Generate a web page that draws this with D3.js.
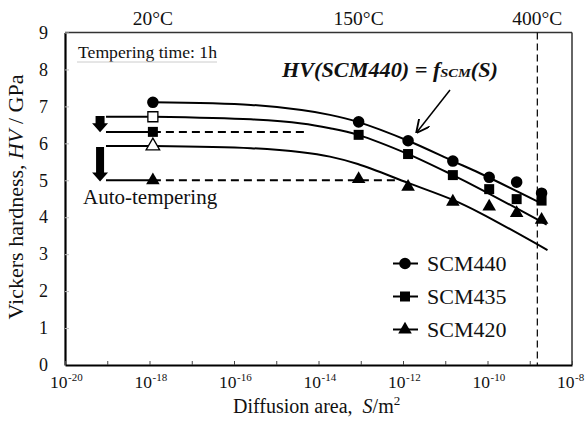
<!DOCTYPE html>
<html>
<head>
<meta charset="utf-8">
<script src="https://cdn.jsdelivr.net/npm/d3@7"></script>
<style>
  body { margin: 0; background: white; }
  svg text { font-family: "Liberation Serif", "Times New Roman", serif; fill: #111; }
</style>
</head>
<body>
<div id="chart"></div>
<script>
// Values. S is kept as log10(S / m^2).
const seriesNames = ["SCM440", "SCM435", "SCM420"];
const logS = [-17.92, -13.05, -11.88, -10.82, -9.96, -9.31, -8.72];
const hv440 = [7.11, 6.58, 6.07, 5.52, 5.08, 4.95, 4.65];
const hv435 = [6.31, 6.23, 5.71, 5.14, 4.76, 4.49, 4.45];
const hv420 = [5.0, 5.03, 4.82, 4.42, 4.29, 4.11, 3.93];

// Open markers (shifted 20°C values the fitted curves start from).
const openLogS = -17.92;
const open435 = 6.72;
const open420 = 5.93;

// Fitted curves HV = f(S).
const curve440 = [[-17.92, 7.11], [-15.6, 7.04], [-14.4, 6.9], [-13.73, 6.77], [-13.07, 6.58], [-11.88, 6.07], [-10.82, 5.52], [-10.18, 5.19], [-8.82, 4.43]];
const curve435 = [[-17.92, 6.72], [-15.6, 6.65], [-14.4, 6.54], [-13.73, 6.41], [-13.07, 6.23], [-11.88, 5.71], [-10.82, 5.14], [-10.18, 4.77], [-8.6, 3.8]];
const curve420 = [[-17.92, 5.93], [-15.6, 5.87], [-14.4, 5.76], [-13.73, 5.64], [-13.07, 5.44], [-11.88, 4.93], [-10.82, 4.47], [-10.18, 4.12], [-8.58, 3.11]];

// Auto-tempering stubs, dashed guides and arrows.
const stubStart = -19.03;
const stubLevels = [6.72, 6.31, 5.93, 5.0];
const dashed = [[-17.92, -14.32, 6.31], [-17.92, -12.19, 5.0]];
const arrows = [[6.74, 6.3, 9], [5.9, 4.97, 8]];
const arrowLogS = -19.17;

// Temperature marks along the top.
const tempLabels = ["20°C", "150°C", "400°C"];
const tempLogS = [-17.92, -13.05, -8.82];
const limitLogS = -8.82;

const xTicks = d3.range(-20, -7, 1);
const xLabels = d3.range(-20, -7, 2);
const yTicks = d3.range(0, 10, 1);

const W = 585, H = 426;
const margin = {left: 65, top: 32.5, right: 13, bottom: 61};

const svg = d3.select("#chart").append("svg")
  .attr("width", W).attr("height", H);

const x = d3.scaleLog().domain([1e-20, 1e-8]).range([margin.left, W - margin.right]);
const y = d3.scaleLinear().domain([0, 9]).range([H - margin.bottom, margin.top]);
const px = d => x(Math.pow(10, d));

// Frame: top and right lighter, left and bottom heavy.
svg.append("line").attr("x1", x(1e-20)).attr("x2", x(1e-8)).attr("y1", y(9)).attr("y2", y(9))
  .attr("stroke", "#333").attr("stroke-width", 1.5);
svg.append("line").attr("x1", x(1e-8)).attr("x2", x(1e-8)).attr("y1", y(9)).attr("y2", y(0))
  .attr("stroke", "#333").attr("stroke-width", 1.5);

// Y axis
const yAxis = svg.append("g")
  .attr("transform", `translate(${margin.left},0)`)
  .call(d3.axisLeft(y).tickValues(yTicks).tickSizeInner(-4).tickSizeOuter(0).tickPadding(17));
yAxis.select(".domain").attr("stroke", "#000").attr("stroke-width", 2.2);
yAxis.selectAll(".tick line").attr("stroke", "#bbb");
yAxis.selectAll(".tick text").attr("font-size", 18).attr("fill", "#111");

// X axis
const xAxis = svg.append("g")
  .attr("transform", `translate(0,${H - margin.bottom})`)
  .call(d3.axisBottom(x).tickValues(xTicks.map(v => Math.pow(10, v))).tickSizeInner(-4).tickSizeOuter(0).tickFormat(""));
xAxis.select(".domain").attr("stroke", "#000").attr("stroke-width", 2.2);
xAxis.selectAll(".tick line").attr("stroke", "#444");

const xl = svg.append("g").selectAll("text").data(xLabels).join("text")
  .attr("x", d => px(d) - 15)
  .attr("y", 388)
  .attr("font-size", 17.5);
xl.append("tspan").text("10");
xl.append("tspan").attr("font-size", 11).attr("dy", -7).attr("dx", 0.5).text(d => d);

// Axis titles
const xt = svg.append("text").attr("x", 233).attr("y", 413).attr("font-size", 20);
xt.append("tspan").text("Diffusion area,\u00a0\u00a0");
xt.append("tspan").attr("font-style", "italic").text("S");
xt.append("tspan").text("/m");
xt.append("tspan").attr("font-size", 13).attr("dy", -8).text("2");

const yt = svg.append("text")
  .attr("transform", "translate(23,197) rotate(-90)")
  .attr("text-anchor", "middle").attr("font-size", 22);
yt.append("tspan").text("Vickers hardness, ");
yt.append("tspan").attr("font-style", "italic").text("HV");
yt.append("tspan").text(" / GPa");

// Temperature labels and the 400°C limit
svg.append("g").selectAll("text").data(tempLabels).join("text")
  .attr("x", (d, i) => px(tempLogS[i]))
  .attr("y", 25)
  .attr("text-anchor", "middle")
  .attr("font-size", 19.5)
  .text(d => d);

svg.append("line")
  .attr("x1", px(limitLogS)).attr("x2", px(limitLogS))
  .attr("y1", y(9)).attr("y2", y(0))
  .attr("stroke", "#111").attr("stroke-width", 1.3).attr("stroke-dasharray", "7,4");

// Fitted curves
const line = d3.line().x(d => px(d[0])).y(d => y(d[1])).curve(d3.curveCatmullRom.alpha(0.5));
svg.append("g").selectAll("path").data([curve440, curve435, curve420]).join("path")
  .attr("d", line)
  .attr("fill", "none").attr("stroke", "#000").attr("stroke-width", 2);

// Stubs and dashed guides
svg.append("g").selectAll("line").data(stubLevels).join("line")
  .attr("x1", px(stubStart)).attr("x2", px(openLogS))
  .attr("y1", d => y(d)).attr("y2", d => y(d))
  .attr("stroke", "#000").attr("stroke-width", 2);

svg.append("g").selectAll("line").data(dashed).join("line")
  .attr("x1", d => px(d[0])).attr("x2", d => px(d[1]))
  .attr("y1", d => y(d[2])).attr("y2", d => y(d[2]))
  .attr("stroke", "#000").attr("stroke-width", 2).attr("stroke-dasharray", "8,5");

// Block arrows
svg.append("g").selectAll("path").data(arrows).join("path")
  .attr("d", d => {
    let cx = px(arrowLogS), y0 = y(d[0]), y1 = y(d[1]);
    let hw = 8, sw = d[2] / 2, hh = 9;
    return `M${cx - sw},${y0} L${cx + sw},${y0} L${cx + sw},${y1 - hh} L${cx + hw},${y1 - hh} L${cx},${y1} L${cx - hw},${y1 - hh} L${cx - sw},${y1 - hh} Z`;
  })
  .attr("fill", "#000");

// Markers
const sym = {
  SCM440: d3.symbol().type(d3.symbolCircle).size(105),
  SCM435: d3.symbol().type(d3.symbolSquare).size(100),
  SCM420: d3.symbol().type(d3.symbolTriangle).size(80)
};
const series = [hv440, hv435, hv420];
series.forEach((vals, k) => {
  svg.append("g").selectAll("path").data(vals).join("path")
    .attr("transform", (d, i) => `translate(${px(logS[i])},${y(d)})`)
    .attr("d", sym[seriesNames[k]]())
    .attr("fill", "#000");
});

// Open markers
svg.append("path")
  .attr("transform", `translate(${px(openLogS)},${y(open435)})`)
  .attr("d", d3.symbol().type(d3.symbolSquare).size(100)())
  .attr("fill", "white").attr("stroke", "#000").attr("stroke-width", 1.3);
svg.append("path")
  .attr("transform", `translate(${px(openLogS)},${y(open420)})`)
  .attr("d", d3.symbol().type(d3.symbolTriangle).size(80)())
  .attr("fill", "white").attr("stroke", "#000").attr("stroke-width", 1.3);

// Annotations
svg.append("text").attr("x", 78).attr("y", 58).attr("font-size", 16)
  .attr("textLength", 139).attr("lengthAdjust", "spacingAndGlyphs")
  .text("Tempering time: 1h");
svg.append("line").attr("x1", 77).attr("x2", 217).attr("y1", 62).attr("y2", 62)
  .attr("stroke", "#ccc").attr("stroke-width", 1);

svg.append("text").attr("x", 83).attr("y", 204).attr("font-size", 21).text("Auto-tempering");

const ft = svg.append("text").attr("x", 282).attr("y", 77)
  .attr("font-size", 20).attr("font-weight", "bold").attr("font-style", "italic")
  .attr("textLength", 216).attr("lengthAdjust", "spacingAndGlyphs");
ft.append("tspan").text("HV(SCM440) =  f");
ft.append("tspan").attr("font-size", 13).text("SCM");
ft.append("tspan").text("(S)");

svg.append("defs").append("marker")
  .attr("id", "head").attr("viewBox", "0 0 10 10").attr("refX", 9).attr("refY", 5)
  .attr("markerWidth", 9).attr("markerHeight", 9).attr("orient", "auto")
  .append("path").attr("d", "M0,0 L10,5 L0,10").attr("fill", "none").attr("stroke", "#000").attr("stroke-width", 1.4);
svg.append("line").attr("x1", 450).attr("y1", 90).attr("x2", 417).attr("y2", 132)
  .attr("stroke", "#000").attr("stroke-width", 1.5).attr("marker-end", "url(#head)");

// Legend
const leg = svg.append("g").selectAll("g").data(seriesNames).join("g")
  .attr("transform", (d, i) => `translate(405,${263.5 + i * 33})`);
leg.append("line").attr("x1", -12).attr("x2", 13).attr("stroke", "#000").attr("stroke-width", 2);
leg.append("path").attr("d", d => sym[d]()).attr("fill", "#000");
leg.append("text").attr("x", 22).attr("dy", "0.35em").attr("font-size", 22).text(d => d);
</script>
</body>
</html>
